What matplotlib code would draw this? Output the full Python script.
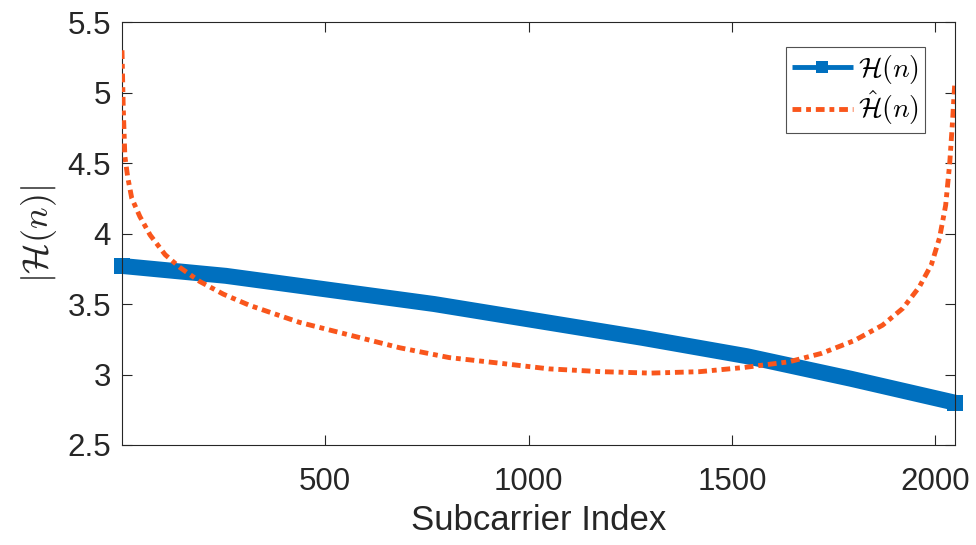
import matplotlib
matplotlib.use("Agg")
import matplotlib.pyplot as plt
from matplotlib.ticker import FuncFormatter

# Data
n_true = [1, 256, 512, 768, 1024, 1280, 1536, 1792, 2048]
h_true = [3.77, 3.70, 3.60, 3.50, 3.38, 3.26, 3.13, 2.97, 2.80]

n_est = [1, 4, 8, 15, 25, 45, 70, 107, 143, 192, 250, 315, 437, 560, 683, 805,
         930, 1050, 1180, 1300, 1420, 1530, 1640, 1720, 1800, 1870, 1920, 1960,
         1990, 2010, 2025, 2035, 2042, 2047]
h_est = [5.30, 4.90, 4.55, 4.40, 4.25, 4.12, 3.99, 3.85, 3.76, 3.66, 3.57, 3.49,
         3.37, 3.28, 3.19, 3.12, 3.08, 3.04, 3.02, 3.01, 3.02, 3.05, 3.09, 3.15,
         3.24, 3.35, 3.47, 3.62, 3.78, 3.97, 4.20, 4.50, 4.80, 5.05]

x_ticks = [500, 1000, 1500, 2000]
y_ticks = [2.5, 3, 3.5, 4, 4.5, 5, 5.5]

plt.rcParams['font.family'] = ['Liberation Sans', 'DejaVu Sans']
plt.rcParams['mathtext.fontset'] = 'cm'

fig = plt.figure(figsize=(9.76, 5.45), dpi=100)
ax = fig.add_axes([0.125, 0.1835, 0.8535, 0.776])

blue = '#0070BF'
orange = '#F9561C'

ax.plot(n_true, h_true, color=blue, lw=11.5, marker='s', ms=11.5, mew=0,
        markevery=[0, len(n_true) - 1], solid_capstyle='butt',
        label=r'$\mathcal{H}(n)$', zorder=2, clip_on=False)
ax.plot(n_est, h_est, color=orange, lw=3.5, ls=(0, (1.8, 1.0, 1.0, 1.0)),
        label=r'$\hat{\mathcal{H}}(n)$', zorder=3)

ax.set_xlim(1, 2048)
ax.set_ylim(2.5, 5.5)
ax.set_xticks(x_ticks)
ax.set_yticks(y_ticks)
ax.yaxis.set_major_formatter(FuncFormatter(lambda v, p: f"{v:g}"))
ax.tick_params(direction='in', length=7, width=0.8, labelsize=22.5, colors='#262626',
               top=True, right=True)
ax.tick_params(axis='x', pad=16)
ax.tick_params(axis='y', pad=8)
for s in ax.spines.values():
    s.set_color('#262626')
    s.set_linewidth(0.8)

ax.set_xlabel('Subcarrier Index', fontsize=25, color='#262626', labelpad=5)
ax.set_ylabel(r'$|\mathcal{H}(n)|$', fontsize=26, color='#262626', labelpad=6)

leg = ax.legend(loc='upper right', bbox_to_anchor=(0.964, 0.941), fontsize=20,
                frameon=True, fancybox=False, edgecolor='#262626',
                handlelength=2.2, borderpad=0.2, labelspacing=0.1,
                handletextpad=0.2, borderaxespad=0)
leg.get_frame().set_linewidth(0.8)
for h in leg.legend_handles:
    h.set_linewidth(3.5)
    h.set_markersize(9)

fig.savefig('out.png', dpi=100)
